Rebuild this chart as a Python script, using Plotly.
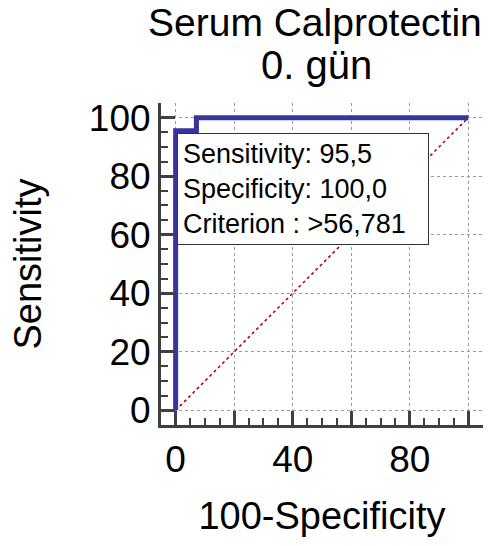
import plotly.graph_objects as go

# ROC curve for serum calprotectin, day 0
fpr = [0, 0, 7.1, 7.1, 100]          # 100-Specificity
tpr = [0, 95.5, 95.5, 100, 100]      # Sensitivity
ref_x = [0, 100]
ref_y = [0, 100]

sensitivity = "95,5"
specificity = "100,0"
criterion = ">56,781"

major_vals = [0, 20, 40, 60, 80, 100]
x_labels = ["0", "", "40", "", "80", ""]
y_labels = ["0", "20", "40", "60", "80", "100"]

FONT = "Liberation Sans, Arial, sans-serif"
AXIS_COL = "#404040"

fig = go.Figure()
fig.add_trace(go.Scatter(x=ref_x, y=ref_y, mode="lines",
                         line=dict(color="#a00000", width=1.5, dash="dot"),
                         showlegend=False, hoverinfo="skip"))
fig.add_trace(go.Scatter(x=fpr, y=tpr, mode="lines",
                         line=dict(color="#3535a0", width=5),
                         showlegend=False))

axis_common = dict(
    range=[-5, 105], showline=True, linecolor=AXIS_COL, linewidth=3,
    ticks="inside", ticklen=14, tickwidth=2.5, tickcolor=AXIS_COL,
    tickvals=major_vals,
    showgrid=True, gridcolor="#9a9a9a", griddash="dot", gridwidth=1,
    zeroline=False, mirror=False,
    tickfont=dict(family=FONT, size=37, color="black"),
    minor=dict(dtick=5, ticks="inside", ticklen=7, tickwidth=1.5,
               tickcolor=AXIS_COL, showgrid=False),
)

fig.update_xaxes(**axis_common, ticktext=x_labels,
                 title=dict(text="100-Specificity",
                            font=dict(family=FONT, size=38, color="black"),
                            standoff=23))
fig.update_yaxes(**axis_common, ticktext=y_labels,
                 title=dict(text="Sensitivity",
                            font=dict(family=FONT, size=38, color="black"),
                            standoff=36))

fig.add_annotation(
    x=0.6, y=94.9, xref="x", yref="y", xanchor="left", yanchor="top",
    text=f"Sensitivity: {sensitivity}<br>Specificity: {specificity}<br>Criterion : {criterion}",
    showarrow=False, align="left", width=240,
    font=dict(family=FONT, size=27, color="black"),
    bgcolor="white", bordercolor="#333333", borderwidth=1, borderpad=5,
)

fig.add_annotation(x=0.5, y=1, xref="paper", yref="paper", yanchor="middle",
                   xshift=-7, yshift=81, text="Serum Calprotectin", showarrow=False,
                   font=dict(family=FONT, size=39, color="black"))
fig.add_annotation(x=0.5, y=1, xref="paper", yref="paper", yanchor="middle",
                   xshift=-6, yshift=38, text="0. gün", showarrow=False,
                   font=dict(family=FONT, size=40, color="black"))

fig.update_layout(
    width=491, height=546,
    margin=dict(l=161, r=8, t=103, b=121),
    plot_bgcolor="white", paper_bgcolor="white",
    font=dict(family=FONT, color="black"),
)

fig.write_html("out.html")
